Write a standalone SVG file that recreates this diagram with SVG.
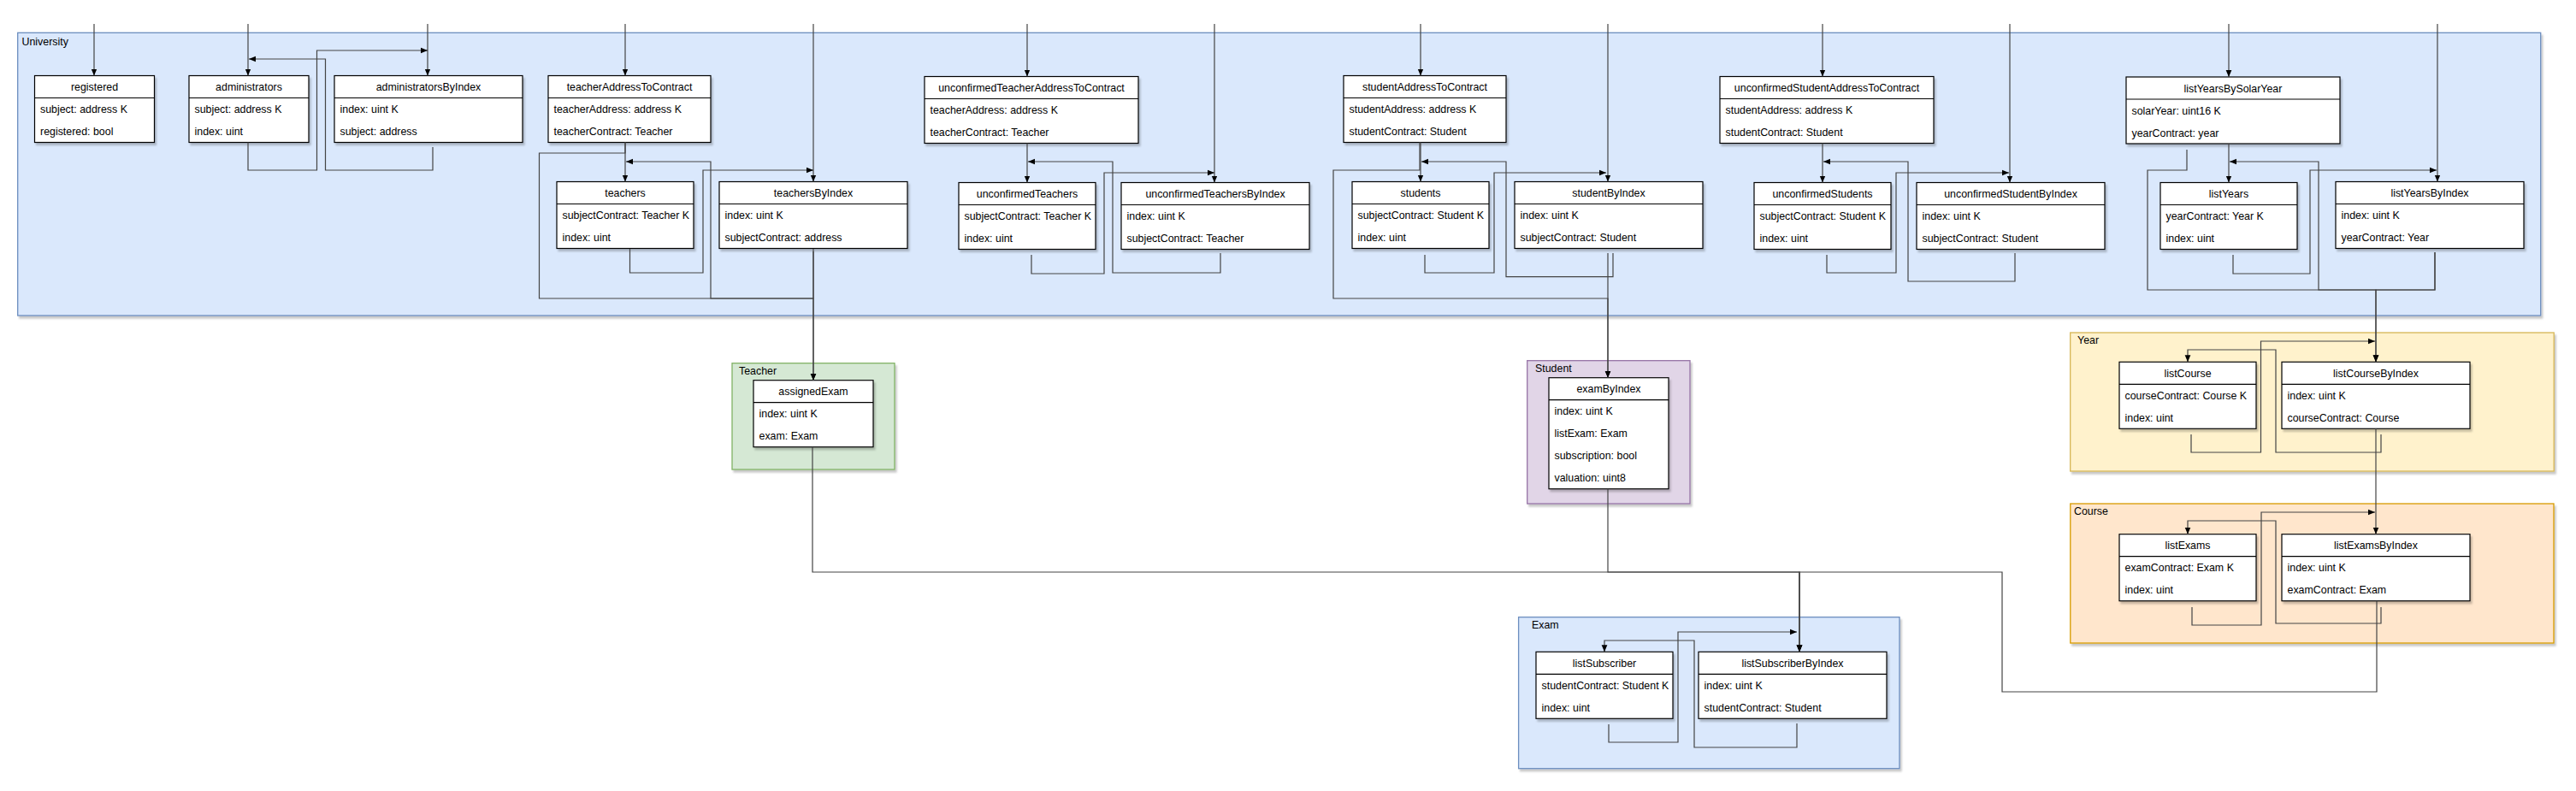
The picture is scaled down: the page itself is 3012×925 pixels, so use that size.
<svg xmlns="http://www.w3.org/2000/svg" width="3012" height="925" viewBox="0 0 3012 925">
<style>
.cont{stroke-width:1.3;filter:url(#sh)}
.uni{fill:#dae8fc;stroke:#6c8ebf}
.tea{fill:#d5e8d4;stroke:#82b366}
.stu{fill:#e1d5e7;stroke:#9673a6}
.yea{fill:#fff2cc;stroke:#d6b656}
.cou{fill:#ffe6cc;stroke:#d79b00}
.clbl{font-family:"Liberation Sans",Arial,sans-serif;font-size:12.4px;fill:#000}
.box{fill:#fff;stroke:#000;stroke-width:1.2;filter:url(#sh)}
.sep{stroke:#000;stroke-width:1.2}
.title{font-family:"Liberation Sans",Arial,sans-serif;font-size:12.4px;fill:#000;text-anchor:middle}
.row{font-family:"Liberation Sans",Arial,sans-serif;font-size:12.4px;fill:#000}
.edge{fill:none;stroke:#444;stroke-width:1.2;marker-end:url(#arr)}
.edge0{fill:none;stroke:#444;stroke-width:1.2}
</style>
<defs>
<filter id="sh" x="-5%" y="-5%" width="115%" height="120%">
<feDropShadow dx="2" dy="3" stdDeviation="1" flood-color="#000" flood-opacity="0.22"/>
</filter>
<marker id="arr" viewBox="0 0 10 10" refX="10" refY="5" markerWidth="8" markerHeight="8" markerUnits="userSpaceOnUse" orient="auto">
<path d="M0,0.8 L10,5 L0,9.2 z" fill="#000"/>
</marker>
</defs>
<rect width="3012" height="925" fill="#fff"/>
<g id="containers">
<g id="University"><rect class="cont uni" x="20.7" y="38.3" width="2950" height="330.7"/><text class="clbl" x="25.5" y="52.5">University</text></g>
<g id="Teacher"><rect class="cont tea" x="856" y="424.7" width="190" height="124.3"/><text class="clbl" x="864" y="438">Teacher</text></g>
<g id="Student"><rect class="cont stu" x="1785.7" y="421.7" width="190.3" height="167.3"/><text class="clbl" x="1795" y="435">Student</text></g>
<g id="Exam"><rect class="cont uni" x="1775.6" y="721.7" width="445.4" height="177"/><text class="clbl" x="1791" y="735">Exam</text></g>
<g id="Year"><rect class="cont yea" x="2420.7" y="389" width="565.5" height="162"/><text class="clbl" x="2429" y="402">Year</text></g>
<g id="Course"><rect class="cont cou" x="2420.8" y="589" width="565.2" height="163"/><text class="clbl" x="2425" y="602">Course</text></g>
</g>
<g id="nodes">
<g id="registered"><rect class="box" x="40.5" y="88.5" width="140" height="78"/><line class="sep" x1="40.5" y1="114.5" x2="180.5" y2="114.5"/><text class="title" x="110.5" y="106">registered</text><text class="row" x="47" y="132">subject: address K</text><text class="row" x="47" y="158">registered: bool</text></g>
<g id="administrators"><rect class="box" x="221" y="88.5" width="140" height="78"/><line class="sep" x1="221" y1="114.5" x2="361" y2="114.5"/><text class="title" x="291" y="106">administrators</text><text class="row" x="227.5" y="132">subject: address K</text><text class="row" x="227.5" y="158">index: uint</text></g>
<g id="administratorsByIndex"><rect class="box" x="391" y="88.5" width="220" height="78"/><line class="sep" x1="391" y1="114.5" x2="611" y2="114.5"/><text class="title" x="501" y="106">administratorsByIndex</text><text class="row" x="397.5" y="132">index: uint K</text><text class="row" x="397.5" y="158">subject: address</text></g>
<g id="teacherAddressToContract"><rect class="box" x="641" y="88.5" width="190" height="78"/><line class="sep" x1="641" y1="114.5" x2="831" y2="114.5"/><text class="title" x="736" y="106">teacherAddressToContract</text><text class="row" x="647.5" y="132">teacherAddress: address K</text><text class="row" x="647.5" y="158">teacherContract: Teacher</text></g>
<g id="teachers"><rect class="box" x="651" y="212.5" width="160" height="78"/><line class="sep" x1="651" y1="238.5" x2="811" y2="238.5"/><text class="title" x="731" y="230">teachers</text><text class="row" x="657.5" y="256">subjectContract: Teacher K</text><text class="row" x="657.5" y="282">index: uint</text></g>
<g id="teachersByIndex"><rect class="box" x="841" y="212.5" width="220" height="78"/><line class="sep" x1="841" y1="238.5" x2="1061" y2="238.5"/><text class="title" x="951" y="230">teachersByIndex</text><text class="row" x="847.5" y="256">index: uint K</text><text class="row" x="847.5" y="282">subjectContract: address</text></g>
<g id="unconfirmedTeacherAddressToContract"><rect class="box" x="1081" y="89.5" width="250" height="78"/><line class="sep" x1="1081" y1="115.5" x2="1331" y2="115.5"/><text class="title" x="1206" y="107">unconfirmedTeacherAddressToContract</text><text class="row" x="1087.5" y="133">teacherAddress: address K</text><text class="row" x="1087.5" y="159">teacherContract: Teacher</text></g>
<g id="unconfirmedTeachers"><rect class="box" x="1121" y="213.5" width="160" height="78"/><line class="sep" x1="1121" y1="239.5" x2="1281" y2="239.5"/><text class="title" x="1201" y="231">unconfirmedTeachers</text><text class="row" x="1127.5" y="257">subjectContract: Teacher K</text><text class="row" x="1127.5" y="283">index: uint</text></g>
<g id="unconfirmedTeachersByIndex"><rect class="box" x="1311" y="213.5" width="220" height="78"/><line class="sep" x1="1311" y1="239.5" x2="1531" y2="239.5"/><text class="title" x="1421" y="231">unconfirmedTeachersByIndex</text><text class="row" x="1317.5" y="257">index: uint K</text><text class="row" x="1317.5" y="283">subjectContract: Teacher</text></g>
<g id="studentAddressToContract"><rect class="box" x="1571" y="88.5" width="190" height="78"/><line class="sep" x1="1571" y1="114.5" x2="1761" y2="114.5"/><text class="title" x="1666" y="106">studentAddressToContract</text><text class="row" x="1577.5" y="132">studentAddress: address K</text><text class="row" x="1577.5" y="158">studentContract: Student</text></g>
<g id="students"><rect class="box" x="1581" y="212.5" width="160" height="78"/><line class="sep" x1="1581" y1="238.5" x2="1741" y2="238.5"/><text class="title" x="1661" y="230">students</text><text class="row" x="1587.5" y="256">subjectContract: Student K</text><text class="row" x="1587.5" y="282">index: uint</text></g>
<g id="studentByIndex"><rect class="box" x="1771" y="212.5" width="220" height="78"/><line class="sep" x1="1771" y1="238.5" x2="1991" y2="238.5"/><text class="title" x="1881" y="230">studentByIndex</text><text class="row" x="1777.5" y="256">index: uint K</text><text class="row" x="1777.5" y="282">subjectContract: Student</text></g>
<g id="unconfirmedStudentAddressToContract"><rect class="box" x="2011" y="89.5" width="250" height="78"/><line class="sep" x1="2011" y1="115.5" x2="2261" y2="115.5"/><text class="title" x="2136" y="107">unconfirmedStudentAddressToContract</text><text class="row" x="2017.5" y="133">studentAddress: address K</text><text class="row" x="2017.5" y="159">studentContract: Student</text></g>
<g id="unconfirmedStudents"><rect class="box" x="2051" y="213.5" width="160" height="78"/><line class="sep" x1="2051" y1="239.5" x2="2211" y2="239.5"/><text class="title" x="2131" y="231">unconfirmedStudents</text><text class="row" x="2057.5" y="257">subjectContract: Student K</text><text class="row" x="2057.5" y="283">index: uint</text></g>
<g id="unconfirmedStudentByIndex"><rect class="box" x="2241" y="213.5" width="220" height="78"/><line class="sep" x1="2241" y1="239.5" x2="2461" y2="239.5"/><text class="title" x="2351" y="231">unconfirmedStudentByIndex</text><text class="row" x="2247.5" y="257">index: uint K</text><text class="row" x="2247.5" y="283">subjectContract: Student</text></g>
<g id="listYearsBySolarYear"><rect class="box" x="2486" y="90" width="250" height="78"/><line class="sep" x1="2486" y1="116" x2="2736" y2="116"/><text class="title" x="2611" y="107.5">listYearsBySolarYear</text><text class="row" x="2492.5" y="133.5">solarYear: uint16 K</text><text class="row" x="2492.5" y="159.5">yearContract: year</text></g>
<g id="listYears"><rect class="box" x="2526" y="213.5" width="160" height="78"/><line class="sep" x1="2526" y1="239.5" x2="2686" y2="239.5"/><text class="title" x="2606" y="231">listYears</text><text class="row" x="2532.5" y="257">yearContract: Year K</text><text class="row" x="2532.5" y="283">index: uint</text></g>
<g id="listYearsByIndex"><rect class="box" x="2731" y="212.5" width="220" height="78"/><line class="sep" x1="2731" y1="238.5" x2="2951" y2="238.5"/><text class="title" x="2841" y="230">listYearsByIndex</text><text class="row" x="2737.5" y="256">index: uint K</text><text class="row" x="2737.5" y="282">yearContract: Year</text></g>
<g id="assignedExam"><rect class="box" x="881" y="444.7" width="140" height="78"/><line class="sep" x1="881" y1="470.7" x2="1021" y2="470.7"/><text class="title" x="951" y="462.2">assignedExam</text><text class="row" x="887.5" y="488.2">index: uint K</text><text class="row" x="887.5" y="514.2">exam: Exam</text></g>
<g id="examByIndex"><rect class="box" x="1811" y="441.7" width="140" height="130"/><line class="sep" x1="1811" y1="467.7" x2="1951" y2="467.7"/><text class="title" x="1881" y="459.2">examByIndex</text><text class="row" x="1817.5" y="485.2">index: uint K</text><text class="row" x="1817.5" y="511.2">listExam: Exam</text><text class="row" x="1817.5" y="537.2">subscription: bool</text><text class="row" x="1817.5" y="563.2">valuation: uint8</text></g>
<g id="listSubscriber"><rect class="box" x="1796" y="762.3" width="160" height="78"/><line class="sep" x1="1796" y1="788.3" x2="1956" y2="788.3"/><text class="title" x="1876" y="779.8">listSubscriber</text><text class="row" x="1802.5" y="805.8">studentContract: Student K</text><text class="row" x="1802.5" y="831.8">index: uint</text></g>
<g id="listSubscriberByIndex"><rect class="box" x="1986" y="762.3" width="220" height="78"/><line class="sep" x1="1986" y1="788.3" x2="2206" y2="788.3"/><text class="title" x="2096" y="779.8">listSubscriberByIndex</text><text class="row" x="1992.5" y="805.8">index: uint K</text><text class="row" x="1992.5" y="831.8">studentContract: Student</text></g>
<g id="listCourse"><rect class="box" x="2478" y="423.3" width="160" height="78"/><line class="sep" x1="2478" y1="449.3" x2="2638" y2="449.3"/><text class="title" x="2558" y="440.8">listCourse</text><text class="row" x="2484.5" y="466.8">courseContract: Course K</text><text class="row" x="2484.5" y="492.8">index: uint</text></g>
<g id="listCourseByIndex"><rect class="box" x="2668" y="423.3" width="220" height="78"/><line class="sep" x1="2668" y1="449.3" x2="2888" y2="449.3"/><text class="title" x="2778" y="440.8">listCourseByIndex</text><text class="row" x="2674.5" y="466.8">index: uint K</text><text class="row" x="2674.5" y="492.8">courseContract: Course</text></g>
<g id="listExams"><rect class="box" x="2478" y="624.7" width="160" height="78"/><line class="sep" x1="2478" y1="650.7" x2="2638" y2="650.7"/><text class="title" x="2558" y="642.2">listExams</text><text class="row" x="2484.5" y="668.2">examContract: Exam K</text><text class="row" x="2484.5" y="694.2">index: uint</text></g>
<g id="listExamsByIndex"><rect class="box" x="2668" y="624.7" width="220" height="78"/><line class="sep" x1="2668" y1="650.7" x2="2888" y2="650.7"/><text class="title" x="2778" y="642.2">listExamsByIndex</text><text class="row" x="2674.5" y="668.2">index: uint K</text><text class="row" x="2674.5" y="694.2">examContract: Exam</text></g>
</g>
<g id="connectors">
<path class="edge" d="M110,28 V88.5"/>
<path class="edge" d="M290,28 V88.5"/>
<path class="edge" d="M500,28 V88.5"/>
<path class="edge" d="M731,28 V88.5"/>
<path class="edge" d="M951,28 V212.5"/>
<path class="edge" d="M1201,28 V89.5"/>
<path class="edge" d="M1420,28 V213.5"/>
<path class="edge" d="M1661,28 V88.5"/>
<path class="edge" d="M1880,28 V212.5"/>
<path class="edge" d="M2131,28 V89.5"/>
<path class="edge" d="M2350,28 V213.5"/>
<path class="edge" d="M2606,28 V90"/>
<path class="edge" d="M2850,28 V212.5"/>
<path class="edge" d="M290,166.5 V199 H370.5 V59 H500"/>
<path class="edge" d="M506,172 V199 H380.5 V69 H291"/>
<path class="edge" d="M731,166.5 V212.5"/>
<path class="edge" d="M731,166.5 V179 H630.5 V349 H951 V444.7"/>
<path class="edge" d="M951,291 V444.7"/>
<path class="edge" d="M951,294 V349 H831 V189 H732"/>
<path class="edge" d="M736.5,291 V319 H822 V199 H951"/>
<path class="edge" d="M1201,167.5 V213.5"/>
<path class="edge" d="M1206,298 V320 H1291 V202 H1420"/>
<path class="edge" d="M1427,296 V319 H1301 V189 H1202"/>
<path class="edge" d="M1661,166.5 V212.5"/>
<path class="edge" d="M1660,166.5 V199 H1559 V349 H1880 V441.7"/>
<path class="edge" d="M1880,296 V441.7"/>
<path class="edge" d="M1886,296 V323.7 H1761 V189 H1662"/>
<path class="edge" d="M1666,298 V319 H1747 V202 H1878"/>
<path class="edge" d="M2131,167.5 V213.5"/>
<path class="edge" d="M2136,298 V319 H2217 V202 H2349"/>
<path class="edge" d="M2356,296 V329 H2231 V189 H2132"/>
<path class="edge" d="M2606,168 V213.5"/>
<path class="edge" d="M2557,175 V199 H2511 V339 H2778 V423.3"/>
<path class="edge" d="M2847,295 V339 H2778 V423.3"/>
<path class="edge" d="M2847,295 V339 H2711 V189 H2607"/>
<path class="edge" d="M2611,298 V320 H2701 V199 H2849"/>
<path class="edge" d="M2562,508 V529 H2643.5 V399 H2777"/>
<path class="edge" d="M2784,508 V529 H2661 V409 H2558 V423.3"/>
<path class="edge" d="M2778,501.3 V624.7"/>
<path class="edge" d="M2563,710 V731 H2644 V599 H2777"/>
<path class="edge" d="M2784,710 V729 H2661 V609 H2558 V624.7"/>
<path class="edge" d="M2779,702.7 V809 H2341 V669 H2104 V762.3"/>
<path class="edge" d="M950,522.7 V669 H2104 V762.3"/>
<path class="edge" d="M1880,571.7 V669 H2104 V762.3"/>
<path class="edge" d="M1881,847 V868 H1962 V739 H2101"/>
<path class="edge" d="M2101,846 V874 H1981 V749 H1876 V762.3"/>
</g>
</svg>
